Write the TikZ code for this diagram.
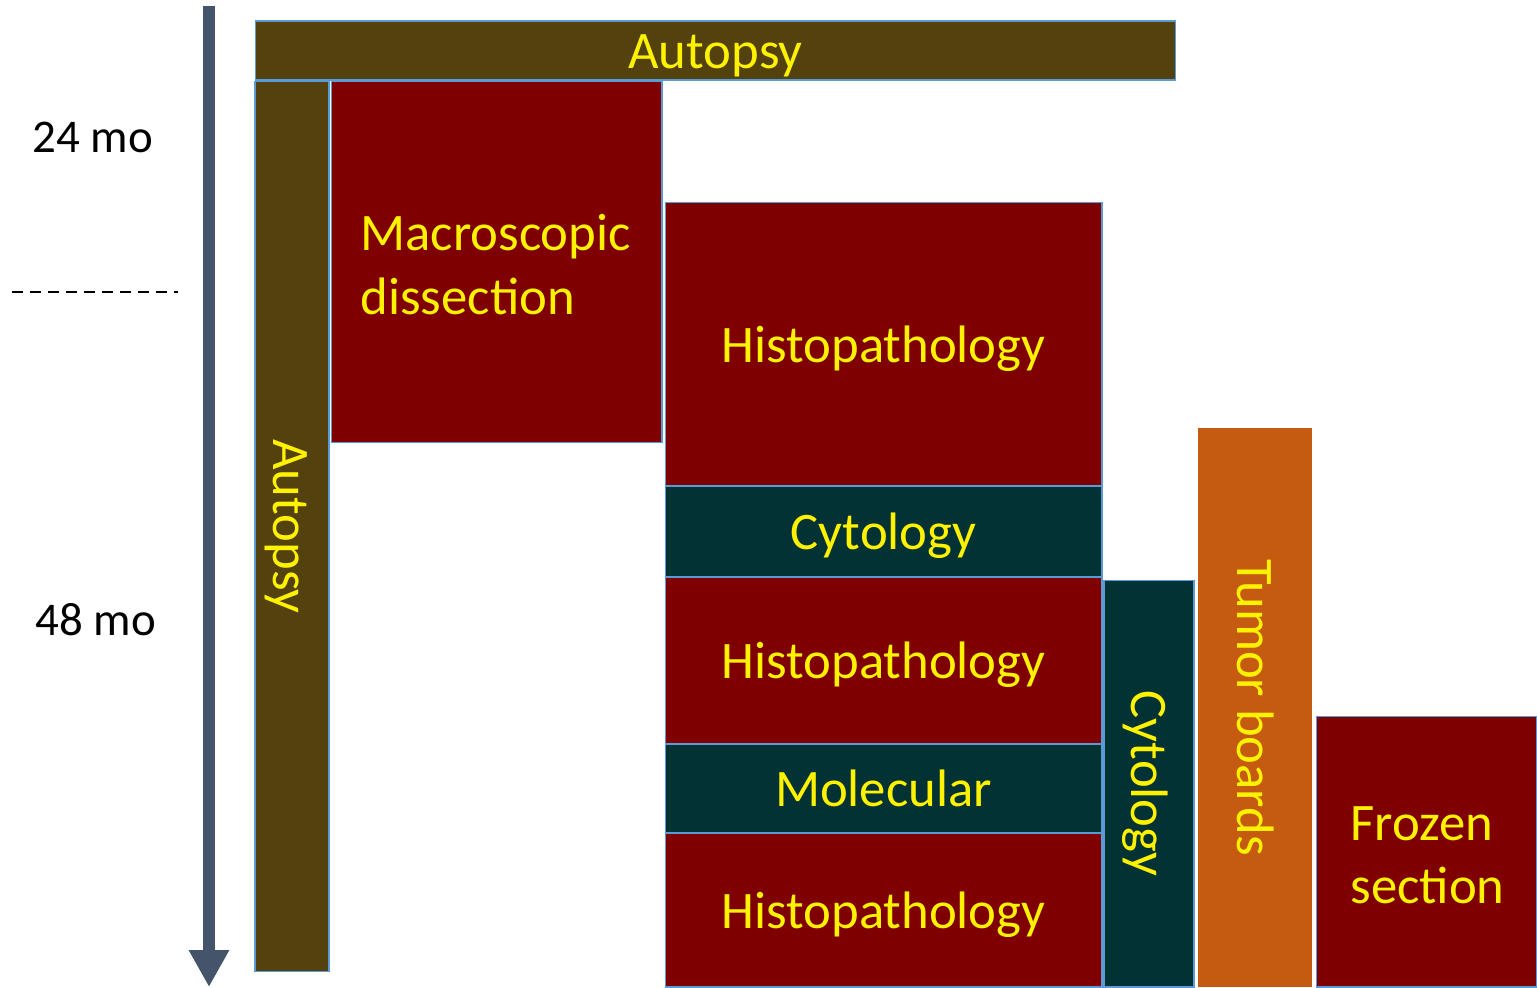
\documentclass[tikz,border=0pt]{standalone}
\usepackage{fontspec}
\setmainfont{Carlito}
\usetikzlibrary{arrows.meta}
\definecolor{autopsybrown}{RGB}{83,65,14}
\definecolor{histored}{RGB}{127,0,0}
\definecolor{cytoteal}{RGB}{3,50,52}
\definecolor{boardorange}{RGB}{197,90,17}
\definecolor{axisslate}{RGB}{68,84,106}
\definecolor{edgeblue}{RGB}{91,155,213}

\begin{document}
\begin{tikzpicture}[x=0.02cm,y=-0.02cm,
        block/.style={draw=edgeblue,line width=0.6pt,inner sep=0pt,text=yellow,
                      align=center,font=\fontsize{30}{36.4}\selectfont},
        oneline/.style={block,text height=26pt,text depth=5.5pt},
        twoline/.style={block,align=left,text height=22pt,text depth=35.1pt},
        timelabel/.style={font=\fontsize{26.7}{32}\selectfont}]
        \useasboundingbox (0,0) rectangle (1537,987);
        \coordinate (t0) at (209,6); \coordinate (t1) at (209,987);
        \draw[axisslate,line width=0.24cm,-{Triangle[width=0.76cm,length=0.74cm]}] (t0)--(t1);
        \coordinate (cutl) at (12,292); \coordinate (cutr) at (178,292);
        \draw[line width=1.1pt,dash pattern=on 0.22cm off 0.14cm] (cutl)--(cutr);
        \node[timelabel] (mo24) at (93,137) {24 mo};
        \node[timelabel] (mo48) at (96,620) {48 mo};
        \node[oneline,fill=autopsybrown,minimum width=18.42cm,minimum height=1.18cm] (autotop) at (715.5,50.5) {Autopsy};
        \node[oneline,fill=autopsybrown,rotate=-90,minimum width=17.82cm,minimum height=1.48cm] (autoside) at (292,526.5) {Autopsy};
        \node[twoline,fill=histored,minimum width=6.62cm,minimum height=7.24cm,text width=5.44cm] (macro) at (496.5,262) {Macroscopic\\dissection};
        \node[oneline,fill=histored,minimum width=8.74cm,minimum height=5.68cm] (histoa) at (883.5,344) {Histopathology};
        \node[oneline,fill=cytoteal,minimum width=8.74cm,minimum height=1.82cm] (cytoa) at (883.5,531.5) {Cytology};
        \node[oneline,fill=histored,minimum width=8.74cm,minimum height=3.34cm] (histob) at (883.5,660.5) {Histopathology};
        \node[oneline,fill=cytoteal,minimum width=8.74cm,minimum height=1.78cm] (molec) at (883.5,788.5) {Molecular};
        \node[oneline,fill=histored,minimum width=8.74cm,minimum height=3.08cm] (histoc) at (883.5,910) {Histopathology};
        \node[oneline,fill=cytoteal,rotate=-90,minimum width=8.14cm,minimum height=1.8cm] (cytob) at (1149,783.5) {Cytology};
        \node[oneline,draw=none,fill=boardorange,rotate=-90,minimum width=11.18cm,minimum height=2.28cm] (boards) at (1255,707.5) {Tumor boards};
        \node[twoline,fill=histored,minimum width=4.42cm,minimum height=5.42cm,text width=3.04cm] (frozen) at (1426.5,851.5) {Frozen\\section};
      \end{tikzpicture}
\end{document}
